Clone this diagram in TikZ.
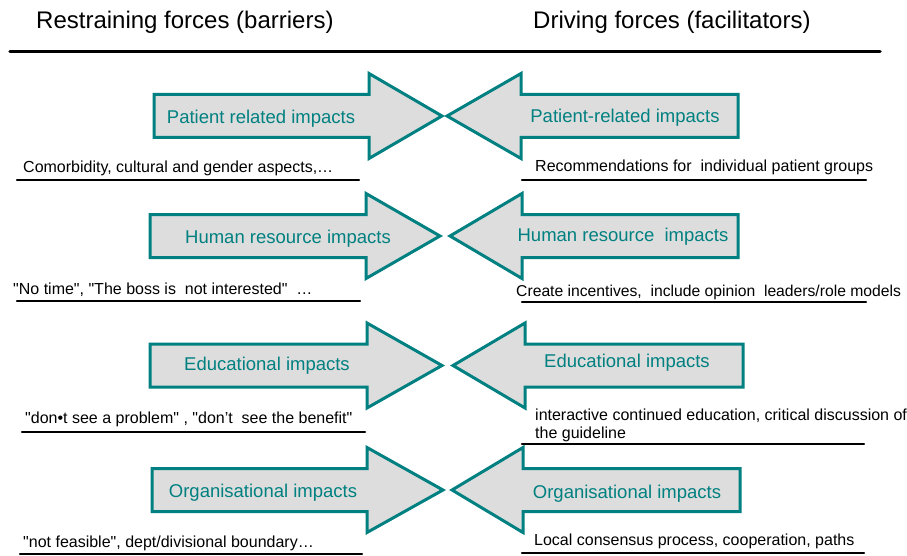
\documentclass[tikz,border=0pt]{standalone}
\usepackage{fontspec}
\newfontfamily\forcefont{Liberation Sans}
\usepackage{tkz-euclide}
\definecolor{arrowgray}{RGB}{221,221,221}

\begin{document}
\begin{tikzpicture}[x=1pt,y=-1pt,
  forcearrow/.style={draw=teal,fill=arrowgray,line width=3pt,line join=miter},
  impact/.style={text=teal,inner sep=0pt,font=\forcefont\fontsize{18.5}{22}\selectfont},
  cause/.style={anchor=west,inner sep=0pt,align=left,font=\forcefont\fontsize{16}{18}\selectfont},
  heading/.style={anchor=west,inner sep=0pt,font=\forcefont\fontsize{24}{28}\selectfont}]

\useasboundingbox (0,0) rectangle (907,556);

\node[heading] (restrain) at (36,22) {Restraining forces (barriers)};
\node[heading] (drive) at (533,22) {Driving forces (facilitators)};

\tkzDefPoint(10,51.5){RuleL}
\tkzDefPoint(880,51.5){RuleR}
  \tkzDrawSegment[line width=3.5pt](RuleL,RuleR)



\draw[forcearrow] (154,94.5) -- (369,94.5) -- (369,73.5) -- (442,116) -- (369,158.5) -- (369,137.5) -- (154,137.5) -- cycle;
\draw[forcearrow] (738,94.5) -- (521,94.5) -- (521,73.5) -- (447,116) -- (521,158.5) -- (521,137.5) -- (738,137.5) -- cycle;

  \node[impact] (patientB) at (261,119) {Patient related impacts};
  \node[impact] (patientD) at (625,118) {Patient-related impacts};

\node[cause] (patientBtxt) at (23,168) {Comorbidity, cultural and gender aspects,…};
\node[cause] (patientDtxt) at (535,167) {Recommendations for~ individual patient groups};

\tkzDefPoint(17,180){bA1}
\tkzDefPoint(359,180){bB1}
\tkzDefPoint(522,180){dA1}
\tkzDefPoint(866,180){dB1}
  \tkzDrawSegment[line width=2.2pt](bA1,bB1)
  \tkzDrawSegment[line width=2.2pt](dA1,dB1)



\draw[forcearrow] (150,214.5) -- (366,214.5) -- (366,193.5) -- (440,236) -- (366,278.5) -- (366,257.5) -- (150,257.5) -- cycle;
\draw[forcearrow] (738,214.5) -- (522,214.5) -- (522,193.5) -- (450,236) -- (522,278.5) -- (522,257.5) -- (738,257.5) -- cycle;

  \node[impact] (humanB) at (288,239) {Human resource impacts};
  \node[impact] (humanD) at (623,237) {Human resource~ impacts};

\node[cause] (humanBtxt) at (13,290) {"No time", "The boss is~ not interested"~ …};
\node[cause,font=\forcefont\fontsize{15.7}{18}\selectfont] (humanDtxt) at (516,292) {Create incentives,~ include opinion~ leaders/role models};

\tkzDefPoint(17,301){bA2}
\tkzDefPoint(360,301){bB2}
\tkzDefPoint(522,302){dA2}
\tkzDefPoint(866,302){dB2}
  \tkzDrawSegment[line width=2.2pt](bA2,bB2)
  \tkzDrawSegment[line width=2.2pt](dA2,dB2)



\draw[forcearrow] (150,344) -- (367,344) -- (367,323) -- (442,365.5) -- (367,408) -- (367,387) -- (150,387) -- cycle;
\draw[forcearrow] (743,344) -- (525,344) -- (525,323) -- (453,365.5) -- (525,408) -- (525,387) -- (743,387) -- cycle;

  \node[impact] (eduB) at (267,366) {Educational impacts};
  \node[impact] (eduD) at (627,363) {Educational impacts};

\node[cause] (eduBtxt) at (25,419) {"don•t see a problem" , "don’t~ see the benefit"};
\node[cause] (eduDtxt) at (535,425) {interactive continued education, critical discussion of\\the guideline};

\tkzDefPoint(22,432){bA3}
\tkzDefPoint(365,432){bB3}
\tkzDefPoint(522,444){dA3}
\tkzDefPoint(864,444){dB3}
  \tkzDrawSegment[line width=2.2pt](bA3,bB3)
  \tkzDrawSegment[line width=2.2pt](dA3,dB3)



\draw[forcearrow] (152,468.5) -- (367,468.5) -- (367,447.5) -- (443,490) -- (367,532.5) -- (367,511.5) -- (152,511.5) -- cycle;
\draw[forcearrow] (740,468.5) -- (523,468.5) -- (523,447.5) -- (452,490) -- (523,532.5) -- (523,511.5) -- (740,511.5) -- cycle;

  \node[impact] (orgB) at (263,493) {Organisational impacts};
  \node[impact] (orgD) at (627,494) {Organisational impacts};

\node[cause] (orgBtxt) at (23,543) {"not feasible", dept/divisional boundary…};
\node[cause] (orgDtxt) at (534,541) {Local consensus process, cooperation, paths};

\tkzDefPoint(20,554){bA4}
\tkzDefPoint(362,554){bB4}
\tkzDefPoint(522,553){dA4}
\tkzDefPoint(864,553){dB4}
  \tkzDrawSegment[line width=2.2pt](bA4,bB4)
  \tkzDrawSegment[line width=2.2pt](dA4,dB4)

\end{tikzpicture}
\end{document}
